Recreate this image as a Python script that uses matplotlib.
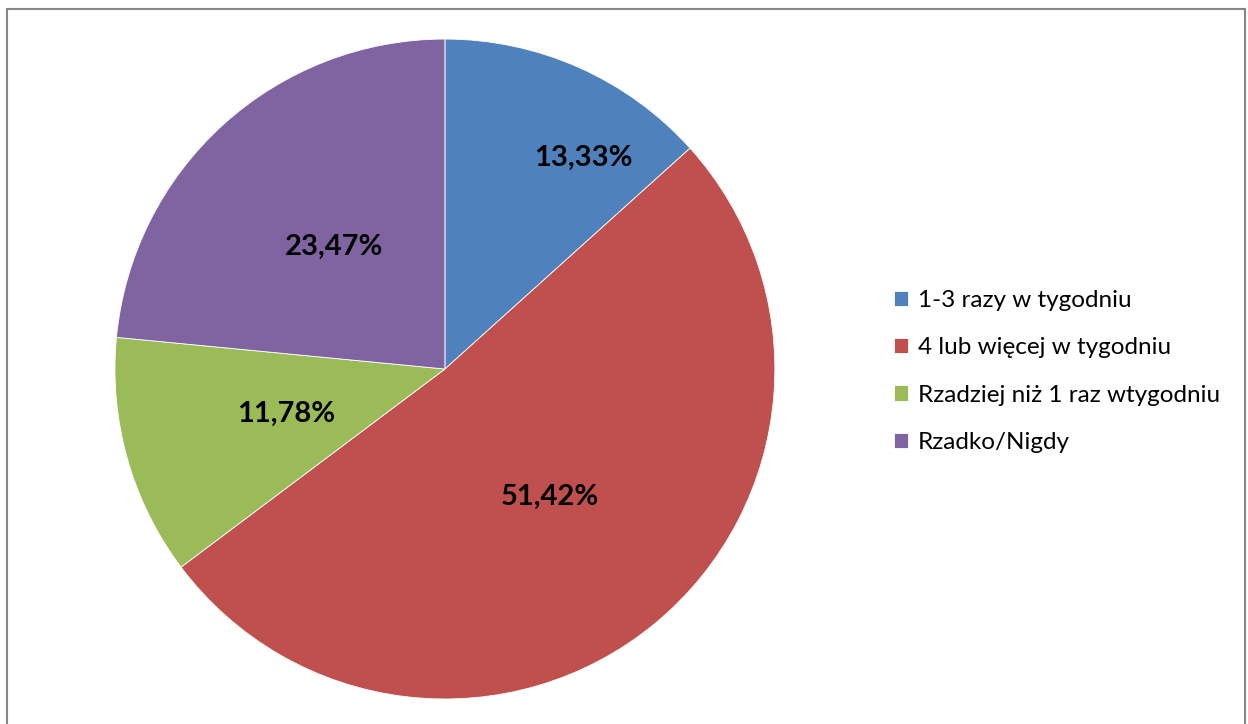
import matplotlib.pyplot as plt
from matplotlib.patches import Rectangle

labels = ["1-3 razy w tygodniu", "4 lub więcej w tygodniu",
          "Rzadziej niż 1 raz wtygodniu", "Rzadko/Nigdy"]
values = [13.33, 51.42, 11.78, 23.47]
colors = ["#4F81BD", "#C0504D", "#9BBB59", "#8064A2"]

plt.rcParams["font.family"] = ["Lato", "DejaVu Sans"]

fig = plt.figure(figsize=(12.48, 7.24), dpi=100)
fig.patches.append(Rectangle((7 / 1248, -0.05), 1238 / 1248, 1 - 9 / 724 + 0.05,
                             transform=fig.transFigure, fill=False,
                             edgecolor="#878787", linewidth=1.5))

ax = fig.add_axes([0.0921, 0.0345, 0.5288, 0.9116])
wedges, texts, autotexts = ax.pie(
    values, colors=colors, startangle=90, counterclock=False,
    autopct=lambda p: f"{p:.2f}%".replace(".", ","), pctdistance=0.5,
    wedgeprops=dict(edgecolor="white", linewidth=0.6),
    textprops=dict(fontsize=21, fontweight="bold", color="black"))
# Excel pushes the small top label outward
autotexts[0].set_position((0.42, 0.64))
ax.set_xlim(-1, 1)
ax.set_ylim(-1, 1)
ax.set_aspect("equal")

fig.legend(wedges, labels, loc="center left", bbox_to_anchor=(0.6985, 0.487),
           frameon=False, fontsize=17.5, handlelength=0.6, handleheight=0.6,
           handletextpad=0.4, labelspacing=1.08)

fig.savefig("out.png", dpi=100)
